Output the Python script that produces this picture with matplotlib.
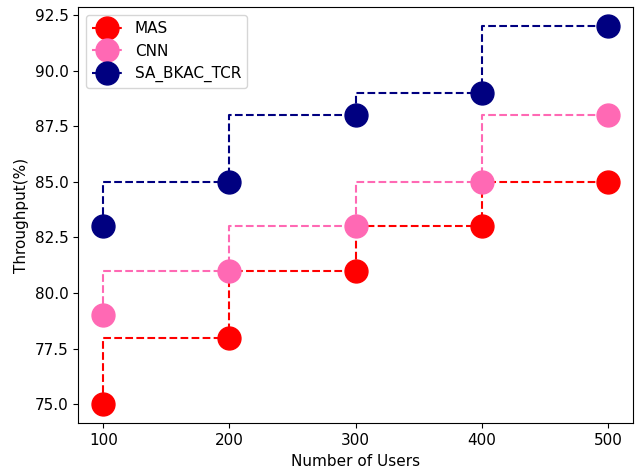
import matplotlib
matplotlib.use("Agg")
import matplotlib.pyplot as plt

plt.rcParams['font.size'] = 11

users = [100, 200, 300, 400, 500]
mas = [75, 78, 81, 83, 85]
cnn = [79, 81, 83, 85, 88]
sa = [83, 85, 88, 89, 92]

fig, ax = plt.subplots(figsize=(6.35, 4.75), dpi=100)
ms = 16.5
ax.plot(users, mas, linestyle='--', drawstyle='steps-pre', marker='o', markersize=ms, color='red', label='MAS')
ax.plot(users, cnn, linestyle='--', drawstyle='steps-pre', marker='o', markersize=ms, color='hotpink', label='CNN')
ax.plot(users, sa, linestyle='--', drawstyle='steps-pre', marker='o', markersize=ms, color='navy', label='SA_BKAC_TCR')
ax.set_xticks(users)
ax.set_xlabel('Number of Users')
ax.set_ylabel('Throughput(%)')
ax.legend(loc='upper left')
fig.subplots_adjust(left=0.123, right=0.997, top=0.985, bottom=0.109)
fig.savefig('out.png', dpi=100)
